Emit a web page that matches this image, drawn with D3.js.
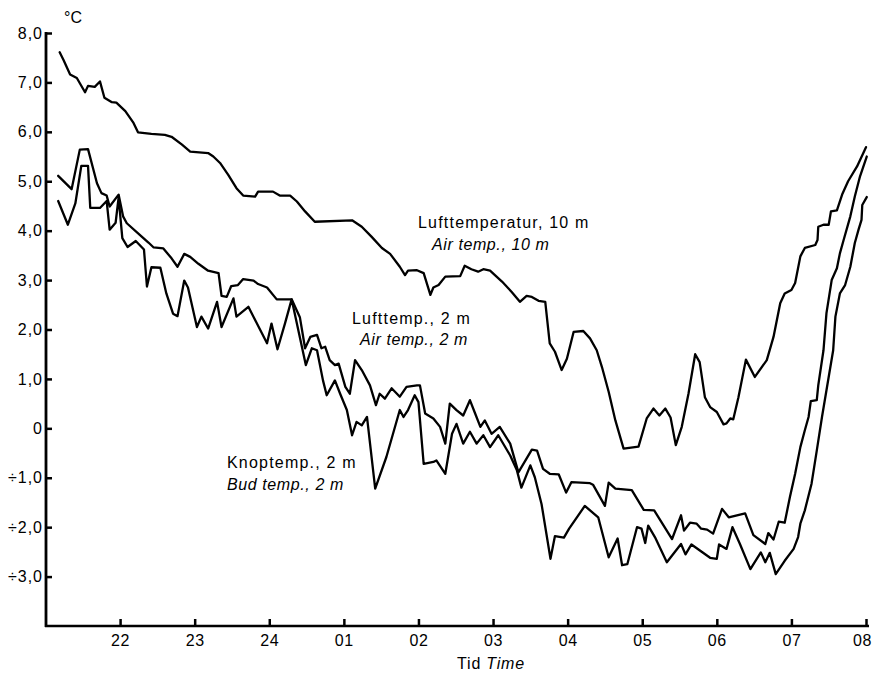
<!DOCTYPE html>
<html>
<head>
<meta charset="utf-8">
<script src="https://cdn.jsdelivr.net/npm/d3@7"></script>
<style>
  html, body { margin: 0; padding: 0; background: #fff; }
  svg { display: block; }
  text { font-family: "Liberation Sans", Arial, Helvetica, sans-serif; fill: #000; }
</style>
</head>
<body>
<svg id="chart" width="874" height="675"></svg>
<script>
// Time in hours after 21:00, temperature in °C
const xTickValues = [1, 2, 3, 4, 5, 6, 7, 8, 9, 10, 11];
const xTickLabels = ["22", "23", "24", "01", "02", "03", "04", "05", "06", "07", "08"];
const yTickValues = [-3, -2, -1, 0, 1, 2, 3, 4, 5, 6, 7, 8];
const yTickLabels = ["÷3,0", "÷2,0", "÷1,0", "0", "1,0", "2,0", "3,0", "4,0", "5,0", "6,0", "7,0", "8,0"];

// Lufttemperatur, 10 m
const airTemp10m = [
  [0.19,7.61],[0.24,7.46],[0.33,7.16],[0.42,7.09],[0.53,6.80],[0.57,6.93],[0.66,6.91],[0.73,7.02],
  [0.79,6.69],[0.89,6.60],[0.95,6.59],[1.07,6.42],[1.18,6.18],[1.24,5.99],[1.42,5.96],[1.60,5.94],
  [1.69,5.90],[1.83,5.74],[1.94,5.60],[2.18,5.57],[2.25,5.50],[2.34,5.37],[2.45,5.13],[2.56,4.86],
  [2.65,4.71],[2.81,4.69],[2.85,4.79],[3.05,4.79],[3.14,4.71],[3.28,4.71],[3.37,4.59],[3.48,4.39],
  [3.61,4.18],[4.11,4.21],[4.24,4.08],[4.37,3.88],[4.51,3.65],[4.62,3.53],[4.75,3.27],[4.82,3.10],
  [4.86,3.19],[4.98,3.20],[5.07,3.14],[5.16,2.70],[5.20,2.85],[5.27,2.90],[5.36,3.07],[5.56,3.08],
  [5.62,3.29],[5.71,3.22],[5.80,3.17],[5.87,3.22],[5.96,3.19],[6.12,2.97],[6.25,2.76],[6.36,2.56],
  [6.45,2.68],[6.52,2.66],[6.61,2.58],[6.70,2.56],[6.76,1.72],[6.83,1.55],[6.92,1.18],[6.99,1.41],
  [7.08,1.95],[7.21,1.97],[7.30,1.82],[7.39,1.58],[7.46,1.24],[7.55,0.74],[7.64,0.16],[7.75,-0.41],
  [7.95,-0.37],[8.06,0.20],[8.15,0.40],[8.23,0.26],[8.31,0.40],[8.38,0.22],[8.45,-0.34],[8.53,0.03],
  [8.62,0.70],[8.71,1.50],[8.77,1.34],[8.84,0.63],[8.91,0.43],[9.00,0.33],[9.09,0.08],[9.13,0.10],
  [9.18,0.20],[9.22,0.18],[9.29,0.63],[9.39,1.39],[9.51,1.04],[9.67,1.38],[9.76,1.85],[9.85,2.53],
  [9.91,2.73],[10.00,2.80],[10.05,2.94],[10.12,3.48],[10.18,3.65],[10.32,3.71],[10.35,3.81],[10.36,4.08],
  [10.43,4.12],[10.50,4.12],[10.53,4.39],[10.61,4.41],[10.68,4.73],[10.76,5.00],[10.88,5.30],[11.00,5.69]
];

// Lufttemp., 2 m
const airTemp2m = [
  [0.17,5.11],[0.35,4.84],[0.46,5.64],[0.57,5.65],[0.69,4.96],[0.75,4.76],[0.82,4.71],[0.86,4.49],
  [0.98,4.73],[1.04,4.29],[1.09,4.15],[1.29,3.88],[1.38,3.76],[1.45,3.66],[1.58,3.64],[1.69,3.44],
  [1.77,3.27],[1.86,3.53],[1.94,3.47],[2.05,3.33],[2.18,3.19],[2.32,3.14],[2.36,2.68],[2.43,2.66],
  [2.49,2.88],[2.58,2.90],[2.65,3.02],[2.79,2.99],[2.85,2.92],[2.97,2.85],[3.10,2.61],[3.30,2.61],
  [3.41,2.25],[3.48,1.62],[3.55,1.85],[3.64,1.89],[3.70,1.62],[3.75,1.65],[3.81,1.38],[3.88,1.28],
  [3.93,1.31],[4.02,0.84],[4.08,0.70],[4.15,1.38],[4.24,1.18],[4.35,0.87],[4.43,0.47],[4.48,0.70],
  [4.55,0.60],[4.64,0.81],[4.75,0.64],[4.84,0.84],[4.98,0.87],[5.02,0.87],[5.09,0.30],[5.20,0.20],
  [5.29,0.03],[5.36,-0.31],[5.42,0.50],[5.51,0.37],[5.60,0.26],[5.69,0.57],[5.76,0.30],[5.83,0.03],
  [5.89,0.16],[5.98,-0.11],[6.09,0.03],[6.23,-0.31],[6.34,-0.89],[6.52,-0.43],[6.59,-0.45],[6.67,-0.82],
  [6.76,-0.92],[6.88,-0.93],[6.98,-1.30],[7.05,-1.09],[7.30,-1.11],[7.34,-1.14],[7.50,-1.57],[7.55,-1.10],
  [7.64,-1.22],[7.86,-1.25],[8.02,-1.65],[8.16,-1.66],[8.40,-2.24],[8.52,-1.76],[8.56,-2.07],[8.64,-1.91],
  [8.73,-1.93],[8.79,-2.03],[8.87,-2.05],[8.95,-2.13],[9.07,-1.63],[9.16,-1.80],[9.38,-1.72],[9.49,-2.16],
  [9.65,-2.34],[9.69,-2.12],[9.76,-2.25],[9.83,-1.89],[9.91,-1.91],[9.98,-1.39],[10.05,-0.92],[10.12,-0.38],
  [10.18,-0.04],[10.23,0.23],[10.26,0.55],[10.34,0.57],[10.36,0.87],[10.43,1.58],[10.47,2.33],[10.54,3.00],
  [10.61,3.24],[10.65,3.54],[10.70,3.81],[10.79,4.29],[10.85,4.69],[10.92,5.10],[11.01,5.50]
];

// Knoptemp., 2 m
const budTemp2m = [
  [0.17,4.60],[0.30,4.12],[0.40,4.55],[0.48,5.31],[0.57,5.31],[0.60,4.46],[0.73,4.46],[0.82,4.60],
  [0.86,4.02],[0.94,4.16],[0.98,4.67],[1.03,3.85],[1.10,3.67],[1.21,3.79],[1.32,3.62],[1.36,2.87],
  [1.42,3.26],[1.54,3.25],[1.62,2.73],[1.71,2.32],[1.77,2.27],[1.86,2.99],[1.91,2.85],[2.03,2.05],
  [2.09,2.26],[2.18,2.02],[2.30,2.56],[2.36,2.05],[2.52,2.63],[2.56,2.26],[2.72,2.46],[2.97,1.72],
  [3.03,2.12],[3.11,1.60],[3.21,2.12],[3.30,2.61],[3.49,1.28],[3.57,1.62],[3.64,1.58],[3.72,0.97],
  [3.77,0.67],[3.88,0.97],[3.95,0.70],[4.04,0.37],[4.11,-0.14],[4.17,0.13],[4.24,0.06],[4.31,0.23],
  [4.42,-1.22],[4.57,-0.58],[4.75,0.37],[4.80,0.23],[4.86,0.37],[4.95,0.67],[5.00,0.53],[5.07,-0.72],
  [5.20,-0.68],[5.24,-0.65],[5.36,-0.92],[5.45,-0.11],[5.51,0.09],[5.60,-0.31],[5.69,-0.07],[5.78,-0.31],
  [5.87,-0.14],[5.96,-0.38],[6.07,-0.14],[6.23,-0.55],[6.32,-0.85],[6.38,-1.20],[6.50,-0.75],[6.56,-0.99],
  [6.65,-1.53],[6.77,-2.64],[6.83,-2.18],[6.95,-2.21],[7.02,-2.03],[7.23,-1.57],[7.41,-1.80],[7.55,-2.61],
  [7.67,-2.23],[7.73,-2.77],[7.80,-2.75],[7.93,-2.00],[7.99,-2.03],[8.04,-2.32],[8.08,-1.97],[8.17,-2.20],
  [8.33,-2.71],[8.52,-2.34],[8.58,-2.55],[8.66,-2.35],[8.91,-2.62],[9.00,-2.64],[9.03,-2.35],[9.13,-2.44],
  [9.21,-2.00],[9.31,-2.34],[9.45,-2.85],[9.59,-2.51],[9.65,-2.71],[9.71,-2.52],[9.79,-2.95],[9.91,-2.68],
  [10.03,-2.44],[10.09,-2.20],[10.12,-1.93],[10.18,-1.66],[10.27,-1.12],[10.34,-0.45],[10.41,0.23],[10.47,0.77],
  [10.56,1.58],[10.59,2.26],[10.65,2.73],[10.72,2.90],[10.79,3.27],[10.85,3.75],[10.90,4.02],[10.94,4.22],
  [10.95,4.52],[11.01,4.68]
];

const series = [airTemp10m, airTemp2m, budTemp2m];

const svg = d3.select("#chart");
svg.append("rect").attr("width", 874).attr("height", 675).attr("fill", "#fff");

const x = d3.scaleLinear().domain([0, 11]).range([45.5, 866]);
const y = d3.scaleLinear().domain([-4, 8]).range([626, 33]);

// Y axis
const yAxis = d3.axisLeft(y)
  .tickValues(yTickValues)
  .tickFormat((d, i) => yTickLabels[i])
  .tickSizeInner(-6)
  .tickSizeOuter(0)
  .tickPadding(3);
const gy = svg.append("g").attr("transform", "translate(46,0)").call(yAxis);
gy.select(".domain").remove();
gy.selectAll(".tick line").attr("stroke", "#000").attr("stroke-width", 2.5);
gy.selectAll(".tick text")
  .attr("font-size", 16)
  .attr("letter-spacing", "1px")
  .style("font-family", '"Liberation Sans", Arial, sans-serif');

// X axis
const xAxis = d3.axisBottom(x)
  .tickValues(xTickValues)
  .tickFormat((d, i) => xTickLabels[i])
  .tickSizeInner(-7)
  .tickSizeOuter(0)
  .tickPadding(9);
const gx = svg.append("g").attr("transform", "translate(0,626)").call(xAxis);
gx.select(".domain").remove();
gx.selectAll(".tick line").attr("stroke", "#000").attr("stroke-width", 2.5);
gx.selectAll(".tick text")
  .attr("font-size", 16)
  .attr("letter-spacing", "0.6px")
  .attr("dx", (d, i) => i === xTickValues.length - 1 ? -4 : 0)
  .style("font-family", '"Liberation Sans", Arial, sans-serif');

// Axis lines
svg.append("line")
  .attr("x1", 46).attr("x2", 46)
  .attr("y1", y(8) - 1).attr("y2", y(-4) + 1)
  .attr("stroke", "#000").attr("stroke-width", 2.8);
svg.append("line")
  .attr("x1", 45).attr("x2", x(11) + 3)
  .attr("y1", y(-4)).attr("y2", y(-4))
  .attr("stroke", "#000").attr("stroke-width", 2.6);

// Data lines
const line = d3.line().x(d => x(d[0])).y(d => y(d[1]));
svg.append("g").selectAll("path")
  .data(series)
  .join("path")
  .attr("d", line)
  .attr("fill", "none")
  .attr("stroke", "#000")
  .attr("stroke-width", 2.3)
  .attr("stroke-linejoin", "round")
  .attr("stroke-linecap", "round");

// Unit label
svg.append("text")
  .attr("x", 64).attr("y", 23)
  .attr("font-size", 16)
  .text("°C");

// Series labels
const labels = [
  { t: "Lufttemperatur, 10 m", x: 418, y: 228, it: false },
  { t: "Air temp., 10 m", x: 432, y: 250, it: true },
  { t: "Lufttemp., 2 m", x: 352, y: 324, it: false },
  { t: "Air temp., 2 m", x: 360, y: 345, it: true },
  { t: "Knoptemp., 2 m", x: 227, y: 468, it: false },
  { t: "Bud temp., 2 m", x: 227, y: 490, it: true }
];
svg.append("g").selectAll("text")
  .data(labels)
  .join("text")
  .attr("x", d => d.x)
  .attr("y", d => d.y)
  .attr("font-size", 16)
  .attr("font-style", d => d.it ? "italic" : "normal")
  .attr("letter-spacing", d => d.it ? "0.6px" : "1.2px")
  .text(d => d.t);

// X axis title
const xt = svg.append("text")
  .attr("x", 491).attr("y", 669)
  .attr("text-anchor", "middle")
  .attr("font-size", 16)
  .attr("letter-spacing", "0.8px");
xt.append("tspan").text("Tid ");
xt.append("tspan").attr("font-style", "italic").text("Time");
</script>
</body>
</html>
